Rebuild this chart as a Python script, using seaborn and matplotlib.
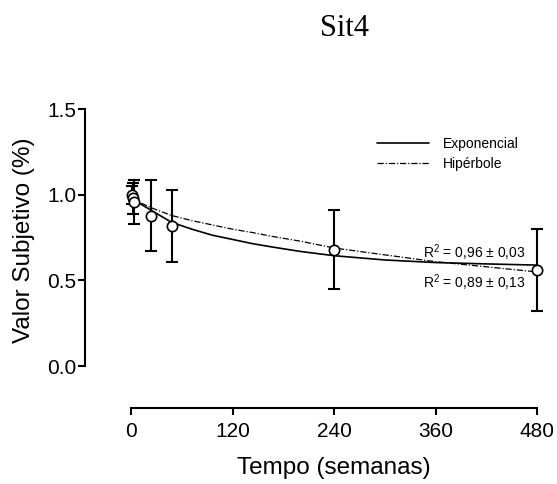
import numpy as np
import pandas as pd
import seaborn as sns
import matplotlib.pyplot as plt

sns.set_style("ticks")
plt.rcParams['font.family'] = ['Liberation Sans', 'DejaVu Sans']
plt.rcParams['text.color'] = 'black'
plt.rcParams['axes.labelcolor'] = 'black'
plt.rcParams['xtick.color'] = 'black'
plt.rcParams['ytick.color'] = 'black'

# pontos medios (semanas, valor subjetivo, erro)
semanas = [1, 2, 4, 24, 48, 240, 480]
valor = [1.00, 0.98, 0.96, 0.88, 0.82, 0.68, 0.56]
erro = [0.05, 0.09, 0.13, 0.21, 0.21, 0.23, 0.24]

# curvas ajustadas
t_curva = [0, 24, 48, 72, 96, 120, 144, 168, 200, 240, 300, 360, 420, 480]
exponencial = [0.98, 0.91, 0.84, 0.80, 0.765, 0.74, 0.715, 0.695, 0.67, 0.645,
               0.62, 0.605, 0.597, 0.59]
hiperbole = [0.98, 0.925, 0.88, 0.85, 0.825, 0.80, 0.78, 0.757, 0.73, 0.69,
             0.65, 0.61, 0.58, 0.55]

r2_exp = "R$\\mathregular{^2}$ = 0,96 \u00b1 0,03"
r2_hip = "R$\\mathregular{^2}$ = 0,89 \u00b1 0,13"

fig = plt.figure(figsize=(5.57, 4.84), dpi=100)
ax = fig.add_axes([0.1526, 0.157, 0.826, 0.626])

sns.lineplot(x=t_curva, y=exponencial, ax=ax, color='black', linewidth=1.2,
             label='Exponencial')
sns.lineplot(x=t_curva, y=hiperbole, ax=ax, color='black', linewidth=0.9,
             dashes=False, label='Hipérbole')
ax.lines[-1].set_dashes([5, 1.5, 1, 1.5])

ax.errorbar(semanas, valor, yerr=erro, fmt='none', ecolor='black',
            elinewidth=1.5, capsize=4.5, capthick=1.5, zorder=3)
sns.scatterplot(x=semanas, y=valor, ax=ax, color='white', edgecolor='black',
                linewidth=1.2, s=55, zorder=4)

ax.set_xlim(-54.4, 489.4)
ax.set_ylim(-0.2456, 1.526)
ax.set_xticks([0, 120, 240, 360, 480])
ax.set_yticks([0.0, 0.5, 1.0, 1.5])
ax.set_yticklabels(['0.0', '0.5', '1.0', '1.5'])

sns.despine(ax=ax)
ax.spines['left'].set_bounds(0, 1.5)
ax.spines['bottom'].set_bounds(0, 480)
for s in ['left', 'bottom']:
    ax.spines[s].set_linewidth(1.5)
    ax.spines[s].set_color('black')
ax.tick_params(axis='both', labelsize=15, width=1.5, length=5, color='black')
ax.tick_params(axis='x', pad=5)
ax.tick_params(axis='y', pad=1)

ax.set_xlabel('Tempo (semanas)', fontsize=17.5)
ax.set_ylabel('Valor Subjetivo (%)', fontsize=17.5)
ax.xaxis.label.set_va('center')
ax.yaxis.label.set_va('center')
ax.xaxis.set_label_coords(0.541, -0.198)
ax.yaxis.set_label_coords(-0.133, 0.554)

ax.text(465.8, 0.661, r2_exp, fontsize=10, ha='right', va='center')
ax.text(465.8, 0.485, r2_hip, fontsize=10, ha='right', va='center')

ax.legend(loc='upper left', bbox_to_anchor=(0.635, 0.895), frameon=False,
          fontsize=10, handlelength=3.75, handletextpad=1.0, borderpad=0,
          borderaxespad=0, labelspacing=0.45)

fig.text(344 / 557, 1 - 29 / 484, 'Sit4', fontsize=22, ha='center', va='center',
         family=['Liberation Serif', 'DejaVu Serif'])

fig.savefig('out.png', dpi=100)
